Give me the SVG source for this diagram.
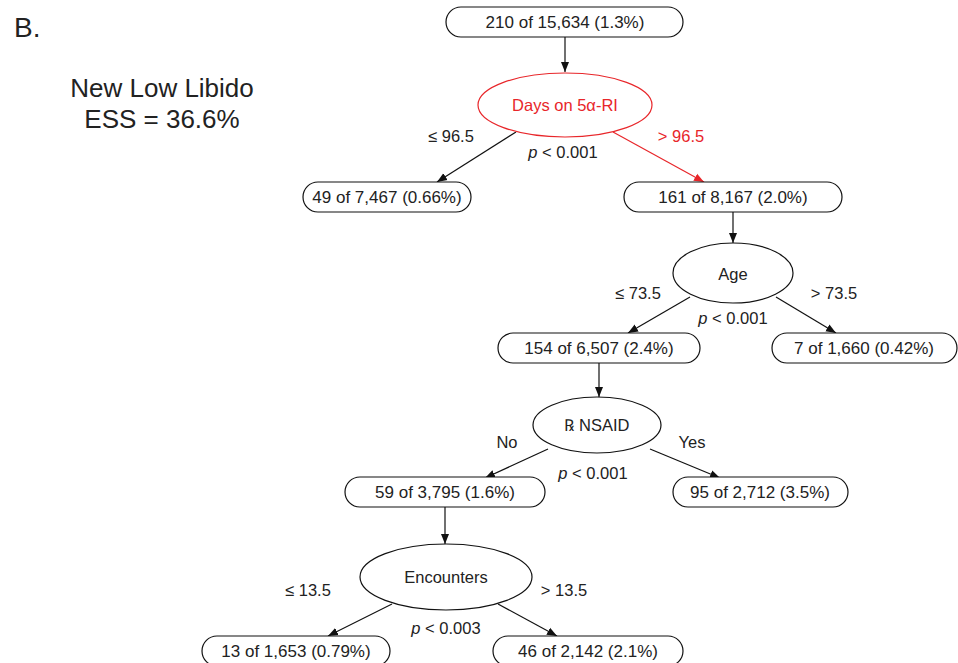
<svg xmlns="http://www.w3.org/2000/svg" width="958" height="663" viewBox="0 0 958 663">
<style>
text{font-family:"Liberation Sans",Arial,sans-serif;fill:#222}
.box{fill:#fff;stroke:#111;stroke-width:1.2}
.ell{fill:#fff;stroke:#111;stroke-width:1.2}
.bt{font-size:17px;text-anchor:middle}
.lbl{font-size:16.5px;text-anchor:middle}
.edge{stroke:#111;stroke-width:1.2;fill:none}
.red{stroke:#e8262a}
.rt{fill:#e8262a}
</style>
<defs>
<marker id="ah" viewBox="0 0 10 10" refX="10" refY="5" markerWidth="10" markerHeight="10" markerUnits="userSpaceOnUse" orient="auto"><path d="M0,1 L10,5 L0,9 Z" fill="#111"/></marker>
<marker id="ahr" viewBox="0 0 10 10" refX="10" refY="5" markerWidth="10" markerHeight="10" markerUnits="userSpaceOnUse" orient="auto"><path d="M0,1 L10,5 L0,9 Z" fill="#e8262a"/></marker>
</defs>
<rect width="958" height="663" fill="#fff"/>
<text x="14" y="37" style="font-size:28px">B.</text>
<text x="162" y="97" style="font-size:26px;text-anchor:middle">New Low Libido</text>
<text x="162" y="128" style="font-size:26px;text-anchor:middle">ESS = 36.6%</text>

<g id="connectors">
<line class="edge" x1="565" y1="37" x2="565" y2="72" marker-end="url(#ah)"/>
<line class="edge" x1="516" y1="132" x2="437" y2="182" marker-end="url(#ah)"/>
<line class="edge red" x1="613" y1="132" x2="704" y2="182" marker-end="url(#ahr)"/>
<line class="edge" x1="733" y1="212" x2="733" y2="243" marker-end="url(#ah)"/>
<line class="edge" x1="690" y1="297" x2="628" y2="333" marker-end="url(#ah)"/>
<line class="edge" x1="776" y1="297" x2="836" y2="333" marker-end="url(#ah)"/>
<line class="edge" x1="599" y1="363" x2="599" y2="397" marker-end="url(#ah)"/>
<line class="edge" x1="548" y1="449" x2="485" y2="478" marker-end="url(#ah)"/>
<line class="edge" x1="650" y1="449" x2="720" y2="478" marker-end="url(#ah)"/>
<line class="edge" x1="445" y1="507" x2="445" y2="544" marker-end="url(#ah)"/>
<line class="edge" x1="392" y1="604" x2="328" y2="636" marker-end="url(#ah)"/>
<line class="edge" x1="498" y1="604" x2="557" y2="636" marker-end="url(#ah)"/>
<text class="lbl" x="451" y="142">≤ 96.5</text>
<text class="lbl rt" x="681" y="142">&gt; 96.5</text>
<text class="lbl" x="563" y="158"><tspan font-style="italic">p</tspan> &lt; 0.001</text>
<text class="lbl" x="638" y="299">≤ 73.5</text>
<text class="lbl" x="834" y="299">&gt; 73.5</text>
<text class="lbl" x="733" y="324"><tspan font-style="italic">p</tspan> &lt; 0.001</text>
<text class="lbl" x="507" y="448">No</text>
<text class="lbl" x="692" y="448">Yes</text>
<text class="lbl" x="593" y="479"><tspan font-style="italic">p</tspan> &lt; 0.001</text>
<text class="lbl" x="308" y="596">≤ 13.5</text>
<text class="lbl" x="564" y="596">&gt; 13.5</text>
<text class="lbl" x="446" y="634"><tspan font-style="italic">p</tspan> &lt; 0.003</text>
</g>

<g id="n_root"><rect class="box" x="446" y="7" width="237" height="30" rx="15"/><text class="bt" x="565" y="28">210 of 15,634 (1.3%)</text></g>
<g id="n_days"><ellipse class="ell red" cx="565" cy="105" rx="87" ry="32"/><text class="lbl rt" x="565" y="111">Days on 5α-RI</text></g>
<g id="n_left1"><rect class="box" x="303" y="182" width="168" height="30" rx="15"/><text class="bt" x="387" y="203">49 of 7,467 (0.66%)</text></g>
<g id="n_right1"><rect class="box" x="624" y="182" width="218" height="30" rx="15"/><text class="bt" x="733" y="203">161 of 8,167 (2.0%)</text></g>
<g id="n_age"><ellipse class="ell" cx="733" cy="273" rx="60" ry="30"/><text class="lbl" x="733" y="280">Age</text></g>
<g id="n_left2"><rect class="box" x="498" y="333" width="202" height="30" rx="15"/><text class="bt" x="599" y="354">154 of 6,507 (2.4%)</text></g>
<g id="n_right2"><rect class="box" x="772" y="333" width="185" height="30" rx="15"/><text class="bt" x="864" y="354">7 of 1,660 (0.42%)</text></g>
<g id="n_nsaid"><ellipse class="ell" cx="597" cy="425" rx="64" ry="28"/><text class="lbl" x="597" y="431">℞ NSAID</text></g>
<g id="n_left3"><rect class="box" x="345" y="477" width="200" height="30" rx="15"/><text class="bt" x="445" y="498">59 of 3,795 (1.6%)</text></g>
<g id="n_right3"><rect class="box" x="673" y="477" width="175" height="30" rx="15"/><text class="bt" x="760" y="498">95 of 2,712 (3.5%)</text></g>
<g id="n_enc"><ellipse class="ell" cx="446" cy="577" rx="86" ry="33"/><text class="lbl" x="446" y="583">Encounters</text></g>
<g id="n_left4"><rect class="box" x="202" y="636" width="188" height="30" rx="15"/><text class="bt" x="296" y="657">13 of 1,653 (0.79%)</text></g>
<g id="n_right4"><rect class="box" x="493" y="636" width="190" height="30" rx="15"/><text class="bt" x="588" y="657">46 of 2,142 (2.1%)</text></g>
</svg>
